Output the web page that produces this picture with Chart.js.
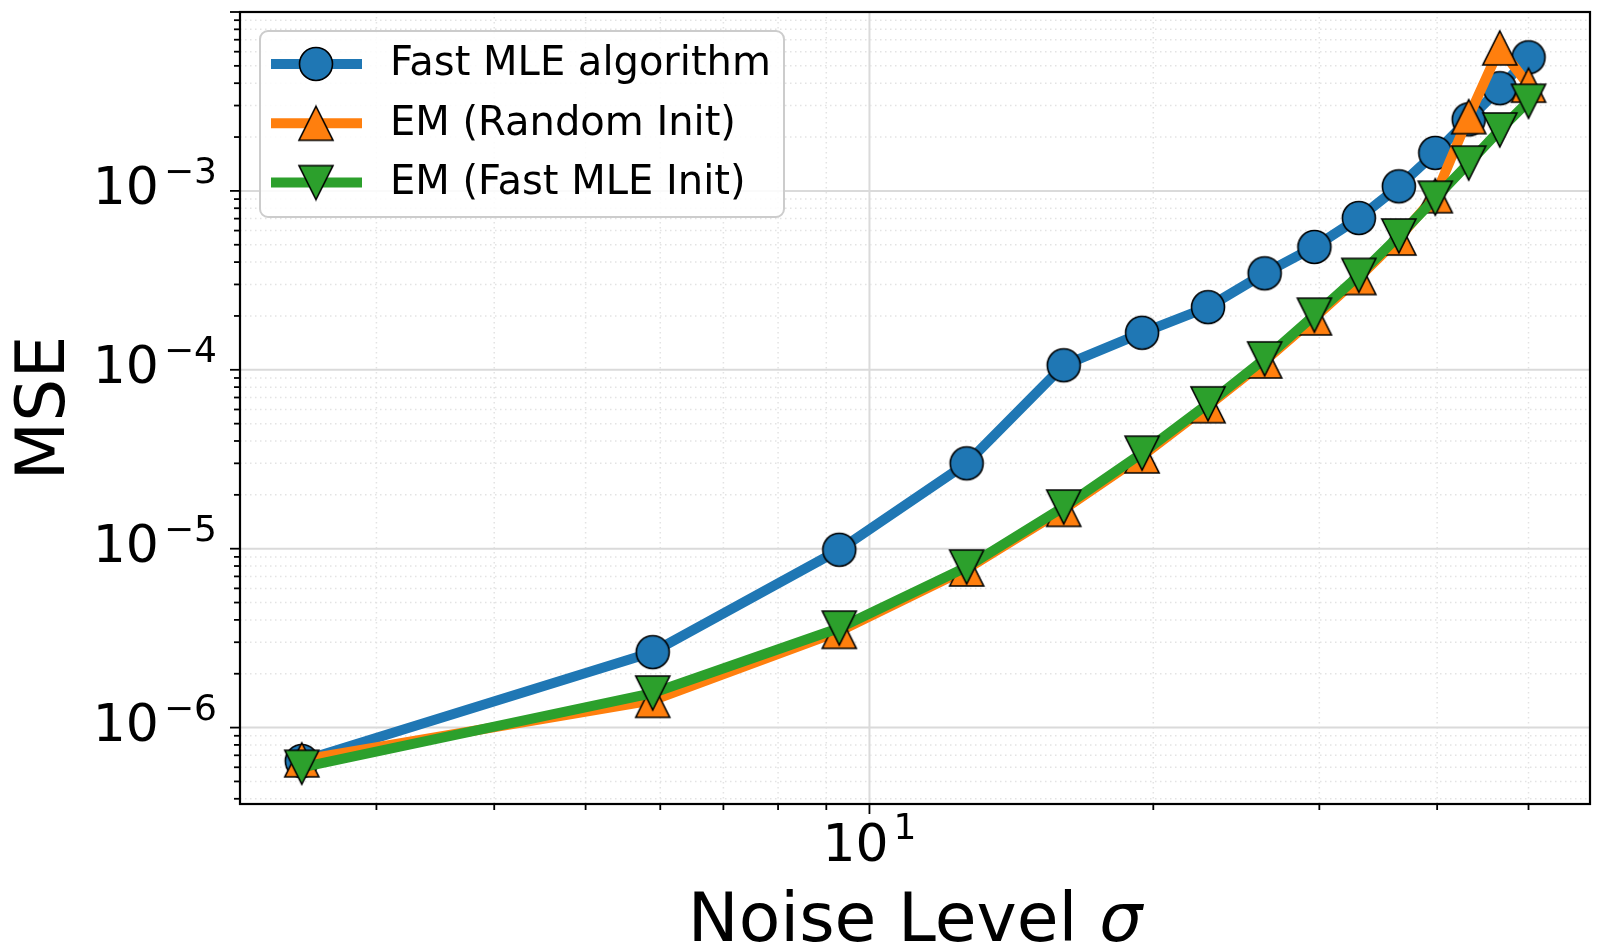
<!DOCTYPE html>
<html>
<head>
<meta charset="utf-8">
<script src="https://cdn.jsdelivr.net/npm/chart.js@4.4.0/dist/chart.umd.min.js"></script>
<style>
    html, body { margin: 0; padding: 0; background: #fff; }
    #wrap { width: 1600px; height: 951px; }
</style>
</head>
<body>
<div id="wrap"><canvas id="myChart" width="1600" height="951"></canvas></div>
<script>
// noise levels (x) and MSE per method
const sigma = [2.5, 5.89, 9.29, 12.68, 16.07, 19.46, 22.86, 26.25, 29.64, 33.04, 36.43, 39.82, 43.21, 46.61, 50];
const fastMle = [6.5e-7, 2.64e-6, 9.86e-6, 3.0e-5, 1.06e-4, 1.61e-4, 2.24e-4, 3.46e-4, 4.86e-4, 7.05e-4, 1.06e-3, 1.63e-3, 2.51e-3, 3.75e-3, 5.58e-3];
const emRandom = [6.6e-7, 1.42e-6, 3.45e-6, 7.7e-6, 1.66e-5, 3.3e-5, 6.3e-5, 1.12e-4, 1.95e-4, 3.28e-4, 5.45e-4, 9.4e-4, 2.6e-3, 6.3e-3, 3.9e-3];
const emFastInit = [6.0e-7, 1.56e-6, 3.6e-6, 7.9e-6, 1.71e-5, 3.42e-5, 6.45e-5, 1.15e-4, 2.02e-4, 3.37e-4, 5.6e-4, 9.1e-4, 1.43e-3, 2.19e-3, 3.17e-3];

const seriesLabels = ['Fast MLE algorithm', 'EM (Random Init)', 'EM (Fast MLE Init)'];

// tick labels: [value, base, exponent]
const xTickLabels = [[10, '10', '1']];
const yTickLabels = [[1e-3, '10', '\u22123'], [1e-4, '10', '\u22124'], [1e-5, '10', '\u22125'], [1e-6, '10', '\u22126']];
const minorSteps = [2, 3, 4, 5, 6, 7, 8, 9];

const FONT = '"DejaVu Sans"';
const colors = ['#1f77b4', '#ff7f0e', '#2ca02c'];
const LINE_W = 10;

function makeMarker(shape, fill) {
    const s = shape === 'circle' ? 16.5 : 17;
    const size = 2 * Math.ceil(s) + 4;
    const c = document.createElement('canvas');
    c.width = size;
    c.height = size;
    const g = c.getContext('2d');
    const m = size / 2;
    g.beginPath();
    if (shape === 'circle') {
        g.arc(m, m, s, 0, Math.PI * 2);
    } else if (shape === 'up') {
        g.moveTo(m, m - s); g.lineTo(m + s, m + s); g.lineTo(m - s, m + s); g.closePath();
    } else {
        g.moveTo(m, m + s); g.lineTo(m + s, m - s); g.lineTo(m - s, m - s); g.closePath();
    }
    g.fillStyle = fill;
    g.fill();
    g.lineWidth = 1.6;
    g.strokeStyle = '#000';
    g.lineJoin = 'miter';
    g.stroke();
    return c;
}
const markers = [makeMarker('circle', colors[0]), makeMarker('up', colors[1]), makeMarker('down', colors[2])];

function decadeValues(min, max) {
    // every 1..9 x 10^n value inside [min, max]
    let out = [];
    for (let e = Math.floor(Math.log10(min)); e <= Math.ceil(Math.log10(max)); e++) {
        let p = Math.pow(10, e);
        if (p >= min && p <= max) out.push({v: p, major: true});
        for (let k of minorSteps) {
            let v = k * p;
            if (v >= min && v <= max) out.push({v: v, major: false});
        }
    }
    return out;
}

function drawPow(ctx, base, exp, x, y, align) {
    ctx.font = '52px ' + FONT;
    let wb = ctx.measureText(base).width;
    ctx.font = '36px ' + FONT;
    let we = ctx.measureText(exp).width;
    let total = wb + 5 + we;
    let left = align === 'right' ? x - total : x - total / 2;
    ctx.textAlign = 'left';
    ctx.textBaseline = 'middle';
    ctx.fillStyle = '#000';
    ctx.font = '52px ' + FONT;
    ctx.fillText(base, left, y);
    ctx.font = '36px ' + FONT;
    ctx.fillText(exp, left + wb + 5, y - 17);
}

const axesDecor = {
    id: 'axesDecor',
    beforeDraw(chart) {
        const ctx = chart.ctx;
        ctx.save();
        ctx.fillStyle = '#fff';
        ctx.fillRect(0, 0, chart.width, chart.height);
        ctx.restore();
    },
    beforeDatasetsDraw(chart) {
        const ctx = chart.ctx;
        const a = chart.chartArea;
        const xs = chart.scales.x, ys = chart.scales.y;
        ctx.save();
        for (let t of decadeValues(xs.min, xs.max)) {
            let px = xs.getPixelForValue(t.v);
            ctx.beginPath();
            if (t.major) { ctx.setLineDash([]); ctx.strokeStyle = '#dadada'; ctx.lineWidth = 2; }
            else { ctx.setLineDash([1.5, 3.5]); ctx.strokeStyle = '#e3e3e3'; ctx.lineWidth = 1.5; }
            ctx.moveTo(px, a.top); ctx.lineTo(px, a.bottom);
            ctx.stroke();
        }
        for (let t of decadeValues(ys.min, ys.max)) {
            let py = ys.getPixelForValue(t.v);
            ctx.beginPath();
            if (t.major) { ctx.setLineDash([]); ctx.strokeStyle = '#dadada'; ctx.lineWidth = 2; }
            else { ctx.setLineDash([1.5, 3.5]); ctx.strokeStyle = '#e3e3e3'; ctx.lineWidth = 1.5; }
            ctx.moveTo(a.left, py); ctx.lineTo(a.right, py);
            ctx.stroke();
        }
        ctx.restore();
    },
    afterDatasetsDraw(chart) {
        const ctx = chart.ctx;
        const a = chart.chartArea;
        const xs = chart.scales.x, ys = chart.scales.y;
        ctx.save();
        ctx.setLineDash([]);
        ctx.strokeStyle = '#000';
        ctx.lineWidth = 2.2;
        ctx.strokeRect(a.left, a.top, a.right - a.left, a.bottom - a.top);

        // tick marks
        ctx.lineWidth = 1.8;
        for (let t of decadeValues(xs.min, xs.max)) {
            let px = xs.getPixelForValue(t.v);
            ctx.beginPath();
            ctx.moveTo(px, a.bottom);
            ctx.lineTo(px, a.bottom + (t.major ? 10 : 6));
            ctx.stroke();
        }
        for (let t of decadeValues(ys.min, ys.max)) {
            let py = ys.getPixelForValue(t.v);
            ctx.beginPath();
            ctx.moveTo(a.left, py);
            ctx.lineTo(a.left - (t.major ? 10 : 6), py);
            ctx.stroke();
        }

        // tick labels
        for (let [v, b, e] of xTickLabels) {
            drawPow(ctx, b, e, xs.getPixelForValue(v), a.bottom + 43, 'center');
        }
        for (let [v, b, e] of yTickLabels) {
            drawPow(ctx, b, e, a.left - 23, ys.getPixelForValue(v), 'right');
        }

        // axis titles
        ctx.fillStyle = '#000';
        ctx.textBaseline = 'alphabetic';
        ctx.font = '68px ' + FONT;
        let t1 = 'Noise Level ';
        let w1 = ctx.measureText(t1).width;
        ctx.font = 'italic 68px ' + FONT;
        let w2 = ctx.measureText('\u03c3').width;
        let cx = (a.left + a.right) / 2;
        let startX = cx - (w1 + w2) / 2;
        ctx.textAlign = 'left';
        ctx.font = '68px ' + FONT;
        ctx.fillText(t1, startX, 941);
        ctx.font = 'italic 68px ' + FONT;
        ctx.fillText('\u03c3', startX + w1, 941);

        ctx.translate(64, (a.top + a.bottom) / 2);
        ctx.rotate(-Math.PI / 2);
        ctx.textAlign = 'center';
        ctx.font = '68px ' + FONT;
        ctx.fillText('MSE', 0, 0);
        ctx.restore();
    },
    afterDraw(chart) {
        // legend box in the upper left of the axes
        const ctx = chart.ctx;
        ctx.save();
        ctx.beginPath();
        ctx.roundRect(260, 31, 524, 186, 8);
        ctx.fillStyle = 'rgba(255,255,255,0.85)';
        ctx.fill();
        ctx.strokeStyle = '#cccccc';
        ctx.lineWidth = 2;
        ctx.stroke();
        chart.data.datasets.forEach((ds, i) => {
            let rowY = 64 + i * 59.3;
            ctx.beginPath();
            ctx.strokeStyle = ds.borderColor;
            ctx.lineWidth = LINE_W;
            ctx.moveTo(271, rowY);
            ctx.lineTo(362, rowY);
            ctx.stroke();
            ctx.drawImage(ds.pointStyle, 316 - ds.pointStyle.width / 2, rowY - ds.pointStyle.height / 2);
            ctx.fillStyle = '#000';
            ctx.font = '40px ' + FONT;
            ctx.textAlign = 'left';
            ctx.textBaseline = 'middle';
            ctx.fillText(ds.label, 390, rowY + 1);
        });
        ctx.restore();
    }
};

const seriesValues = [fastMle, emRandom, emFastInit];
let datasets = seriesValues.map((vals, i) => ({
    label: seriesLabels[i],
    data: sigma.map((s, j) => ({x: s, y: vals[j]})),
    borderColor: colors[i],
    backgroundColor: colors[i],
    borderWidth: LINE_W,
    borderJoinStyle: 'round',
    pointStyle: markers[i],
    pointRadius: 17,
    pointHoverRadius: 17,
    fill: false,
    tension: 0,
    order: 3 - i,
}));

const ctx = document.getElementById('myChart').getContext('2d');
const chart = new Chart(ctx, {
    type: 'line',
    data: { datasets: datasets },
    options: {
        responsive: false,
        animation: false,
        devicePixelRatio: 1,
        layout: { autoPadding: false, padding: { left: 240, right: 10, top: 12, bottom: 147 } },
        plugins: {
            legend: { display: false },
            tooltip: { enabled: false },
        },
        scales: {
            x: { type: 'logarithmic', min: 2.15, max: 58.1, display: false },
            y: { type: 'logarithmic', min: 3.74e-7, max: 1e-2, display: false },
        },
    },
    plugins: [axesDecor],
});
</script>
</body>
</html>
